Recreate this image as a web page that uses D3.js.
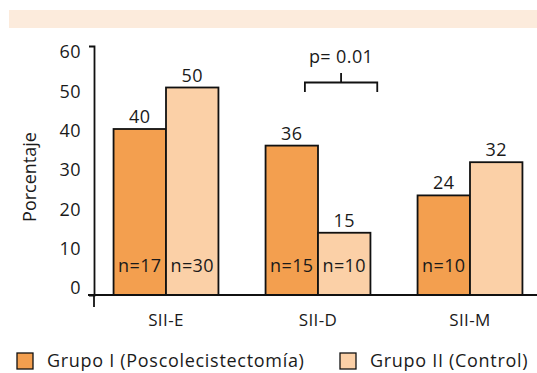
<!DOCTYPE html>
<html>
<head>
<meta charset="utf-8">
<script src="https://cdn.jsdelivr.net/npm/d3@7"></script>
<style>
  html, body { margin: 0; padding: 0; background: #fff; }
  svg { display: block; }
  text { font-family: "Open Sans", "Noto Sans", sans-serif; fill: #1a1a1a; }
</style>
</head>
<body>
<svg id="chart" width="537" height="373"></svg>
<script>
// Irritable bowel subtypes and percentages per group
const categories = ["SII-E", "SII-D", "SII-M"];
const groups = ["Grupo I (Poscolecistectomía)", "Grupo II (Control)"];
const grupoI = [40, 36, 24];
const grupoII = [50, 15, 32];
const nGrupoI = ["n=17", "n=15", "n=10"];
const nGrupoII = ["n=30", "n=10", ""];
const yTicks = [0, 10, 20, 30, 40, 50, 60];
const yLabel = "Porcentaje";
const pLabel = "p= 0.01";

const colors = ["#f39f4f", "#fbd0a7"];

const svg = d3.select("#chart");

// header band
svg.append("rect").attr("x", 9).attr("y", 10).attr("width", 528).attr("height", 18)
  .attr("fill", "#fcebdc");

const y = d3.scaleLinear().domain([0, 60]).range([295, 46]);
// tick labels sit on a slightly tighter ladder than the marks
const yLab = d3.scaleLinear().domain([0, 60]).range([288, 52]);
const x0 = d3.scaleBand().domain(categories).range([90, 546])
  .paddingInner(0.31).paddingOuter(0.155);
const x1 = d3.scaleBand().domain([0, 1]).range([0, x0.bandwidth()]);

const rows = categories.map((c, i) => ({
  cat: c,
  vals: [
    { g: 0, v: grupoI[i], n: nGrupoI[i] },
    { g: 1, v: grupoII[i], n: nGrupoII[i] }
  ]
}));

// bars
const cat = svg.selectAll("g.cat").data(rows).join("g")
  .attr("class", "cat")
  .attr("transform", d => `translate(${x0(d.cat)},0)`);

cat.selectAll("rect").data(d => d.vals).join("rect")
  .attr("x", d => x1(d.g))
  .attr("y", d => y(d.v))
  .attr("width", x1.bandwidth())
  .attr("height", d => y(0) - y(d.v))
  .attr("fill", d => colors[d.g])
  .attr("stroke", "#111")
  .attr("stroke-width", 1.8);

cat.selectAll("text.val").data(d => d.vals).join("text")
  .attr("class", "val")
  .attr("x", d => x1(d.g) + x1.bandwidth() / 2)
  .attr("y", d => y(d.v) - 6)
  .attr("text-anchor", "middle")
  .attr("font-size", 18)
  .attr("letter-spacing", 0.5)
  .text(d => d.v);

cat.selectAll("text.n").data(d => d.vals).join("text")
  .attr("class", "n")
  .attr("x", d => x1(d.g) + x1.bandwidth() / 2)
  .attr("y", 272)
  .attr("text-anchor", "middle")
  .attr("font-size", 18)
  .attr("letter-spacing", 0.4)
  .text(d => d.n);

// baseline across the plot
svg.append("line")
  .attr("x1", 88).attr("x2", 537)
  .attr("y1", y(0)).attr("y2", y(0))
  .attr("stroke", "#111").attr("stroke-width", 1.8);

// y axis: line with end ticks, then labels
const yAxis = svg.append("g")
  .attr("transform", "translate(94,0)")
  .call(d3.axisLeft(y).tickValues([]).tickSizeOuter(5));
yAxis.select(".domain").attr("stroke", "#111").attr("stroke-width", 1.8);
svg.append("line")
  .attr("x1", 94).attr("x2", 94).attr("y1", y(0)).attr("y2", 307)
  .attr("stroke", "#111").attr("stroke-width", 1.8);

const yLabels = svg.append("g")
  .attr("transform", "translate(94,0)")
  .call(d3.axisLeft(yLab).tickValues(yTicks).tickSize(0).tickPadding(13));
yLabels.select(".domain").remove();
yLabels.selectAll("text").attr("font-size", 18).attr("fill", "#1a1a1a")
  .attr("letter-spacing", 0.5)
  .style("font-family", "\"Open Sans\", sans-serif");

svg.append("text")
  .attr("transform", "translate(36,177) rotate(-90)")
  .attr("text-anchor", "middle")
  .attr("font-size", 18)
  .text(yLabel);

// category labels
svg.selectAll("text.cat").data(categories).join("text")
  .attr("class", "cat")
  .attr("x", d => x0(d) + x0.bandwidth() / 2)
  .attr("y", 326)
  .attr("text-anchor", "middle")
  .attr("font-size", 17)
  .attr("letter-spacing", 0.4)
  .text(d => d);

// significance bracket over SII-D
const bl = x0("SII-D") + x1(0) + x1.bandwidth() * 0.75;
const br = x0("SII-D") + x1(1) + x1.bandwidth() * 1.13;
const bm = (bl + br) / 2;
svg.append("path")
  .attr("d", `M${bl},92V82.5H${br}V92M${bm},82.5V73`)
  .attr("fill", "none").attr("stroke", "#111").attr("stroke-width", 1.8);
svg.append("text")
  .attr("x", bm).attr("y", 63)
  .attr("text-anchor", "middle")
  .attr("font-size", 18)
  .attr("letter-spacing", 0.4)
  .text(pLabel);

// legend
const legendX = [17, 340];
const leg = svg.selectAll("g.leg").data(groups).join("g")
  .attr("class", "leg")
  .attr("transform", (d, i) => `translate(${legendX[i]},353)`);
leg.append("rect").attr("width", 16).attr("height", 16)
  .attr("fill", (d, i) => colors[i]).attr("stroke", "#111").attr("stroke-width", 1.3);
leg.append("text").attr("x", 30).attr("y", 14).attr("font-size", 18)
  .attr("letter-spacing", 0.7).text(d => d);
</script>
</body>
</html>
